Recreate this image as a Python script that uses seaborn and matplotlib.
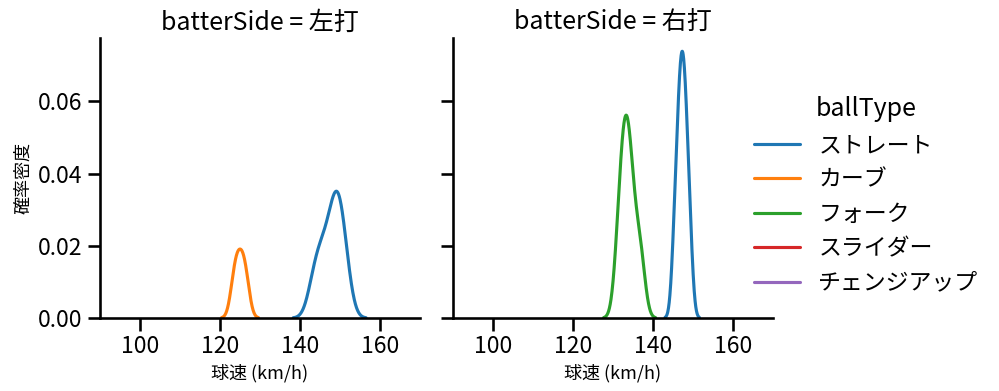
import numpy as np
import pandas as pd
import matplotlib
matplotlib.use("Agg")
import matplotlib.pyplot as plt
import seaborn as sns
import warnings
warnings.filterwarnings("ignore")

# ---- data: pitch speeds (km/h) ----
left_straight = [143.3, 144.7, 145.8, 147.1, 148.1, 148.75, 149.3, 149.85, 150.5, 151.5]
left_curve = [123.65, 125.0, 126.35]
left_slider = [136.0]
right_fork = [131.1, 131.9, 132.4, 132.8, 133.2, 133.6, 134.0, 134.5, 135.1, 136.3, 137.2]
right_straight = [145.3, 146.0, 146.5, 146.8, 147.1, 147.5, 147.8, 148.1, 148.6, 149.3]
right_slider = [134.0]
right_change = [138.0]

ball_types = ["ストレート", "カーブ", "フォーク", "スライダー", "チェンジアップ"]
sides = ["左打", "右打"]

rows = []
for side, bt, vals in [
    ("左打", "ストレート", left_straight),
    ("左打", "カーブ", left_curve),
    ("左打", "スライダー", left_slider),
    ("右打", "フォーク", right_fork),
    ("右打", "ストレート", right_straight),
    ("右打", "スライダー", right_slider),
    ("右打", "チェンジアップ", right_change),
]:
    for v in vals:
        rows.append({"speed": v, "ballType": bt, "batterSide": side})
df = pd.DataFrame(rows)

sns.set_theme(context="talk", style="ticks", palette="tab10",
              rc={"axes.edgecolor": "black", "text.color": "black",
                  "axes.labelcolor": "black", "xtick.color": "black",
                  "ytick.color": "black"})
plt.rcParams["font.family"] = ["Noto Sans CJK JP", "DejaVu Sans"]

g = sns.displot(data=df, x="speed", hue="ballType", col="batterSide", kind="kde",
                hue_order=ball_types, col_order=sides, height=3.6, aspect=1.1)
g.set(xlim=(90, 170))
g.set_axis_labels("球速 (km/h)", "確率密度", fontsize=13)
g.set_titles("batterSide = {col_name}")
g.figure.set_size_inches(9.99, 3.91)
g.figure.subplots_adjust(left=0.1001, right=0.7738, bottom=0.1867, top=0.9028, wspace=0.103)

g.figure.savefig("out.png", dpi=100)
